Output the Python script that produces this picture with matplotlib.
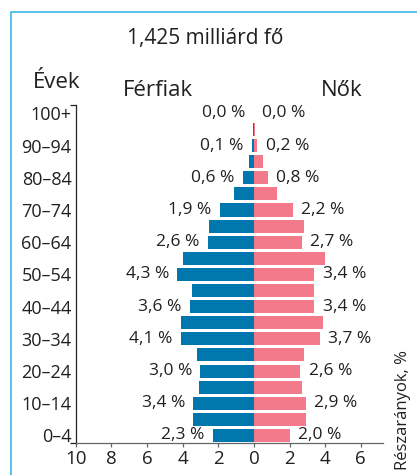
import numpy as np
import matplotlib.pyplot as plt
from matplotlib.patches import Rectangle

plt.rcParams['font.family'] = ['Open Sans', 'DejaVu Sans']

# age groups from youngest to oldest, share of total population in percent
age_groups = ['0–4', '5–9', '10–14', '15–19', '20–24', '25–29', '30–34',
              '35–39', '40–44', '45–49', '50–54', '55–59', '60–64', '65–69',
              '70–74', '75–79', '80–84', '85–89', '90–94', '95–99', '100+']
men = [2.3, 3.4, 3.4, 3.1, 3.0, 3.2, 4.1, 4.1, 3.6, 3.5, 4.3,
       4.0, 2.6, 2.5, 1.9, 1.1, 0.6, 0.3, 0.1, 0.03, 0.0]
women = [2.0, 2.9, 2.9, 2.7, 2.6, 2.8, 3.7, 3.9, 3.4, 3.4, 3.4,
         4.0, 2.7, 2.8, 2.2, 1.3, 0.8, 0.5, 0.2, 0.05, 0.0]
x_ticks = [-10, -8, -6, -4, -2, 0, 2, 4, 6]

BLUE = '#0078ad'
PINK = '#f27a8a'
FRAME = '#3cb9e6'
TEXT = '#231f20'

W, H = 417, 475


def px(x, y):
    return x / W, 1 - y / H


def pct(v):
    return f'{v:.1f} %'.replace('.', ',')


fig = plt.figure(figsize=(W / 100, H / 100), dpi=100)
left, bottom = px(75.7, 442.7)
ax = fig.add_axes([left, bottom, (382.7 - 75.7) / W, (442.7 - 105) / H])

y = np.arange(len(age_groups))
ax.barh(y, -np.array(men), height=0.81, color=BLUE, linewidth=0)
ax.barh(y, women, height=0.81, color=PINK, linewidth=0)

# value labels on every second age group
for i in range(0, len(age_groups), 2):
    ax.annotate(pct(men[i]), xy=(-men[i], y[i]), xytext=(-6, 0),
                textcoords='offset points', ha='right', va='center',
                fontsize=12.5, color=TEXT)
    ax.annotate(pct(women[i]), xy=(women[i], y[i]), xytext=(6, 0),
                textcoords='offset points', ha='left', va='center',
                fontsize=12.5, color=TEXT)

ylo, yhi = -0.45, 20.52
ax.set_ylim(ylo, yhi)
ax.set_xlim(-10, 7.23)

ax.set_yticks(y[::2])
ax.set_yticklabels(age_groups[::2])
ax.set_yticks([ylo, yhi], minor=True)
ax.set_xticks(x_ticks)
ax.set_xticklabels([str(abs(t)) for t in x_ticks])

for s in ('top', 'right'):
    ax.spines[s].set_visible(False)
ax.spines['left'].set_color('#222222')
ax.spines['left'].set_linewidth(0.9)
ax.spines['bottom'].set_color('#666666')
ax.spines['bottom'].set_linewidth(0.9)

ax.tick_params(axis='y', which='major', length=0, pad=3, labelsize=13,
               labelcolor=TEXT)
ax.tick_params(axis='y', which='minor', length=4, width=0.9, color='#222222')
ax.tick_params(axis='x', length=3, width=0.9, color='#666666', pad=2.5,
               labelsize=13.5, labelcolor=TEXT)

fig.text(*px(205, 44), '1,425 milliárd fő', ha='center', va='baseline',
         fontsize=15, color=TEXT)
fig.text(*px(33, 87.5), 'Évek', ha='left', va='baseline', fontsize=16,
         color=TEXT)
fig.text(*px(123, 96.5), 'Férfiak', ha='left', va='baseline', fontsize=16,
         color=TEXT)
fig.text(*px(321, 96.5), 'Nők', ha='left', va='baseline', fontsize=16,
         color=TEXT)
fig.text(*px(403, 350), 'Részarányok, %', ha='center', va='top',
         rotation=90, fontsize=12, color=TEXT)

# thin frame around the panel, running off the right and bottom edges
fx, fy = px(10.7, 12.3)
fig.patches.append(Rectangle((fx, -0.1), 2, fy + 0.1, fill=False,
                             edgecolor=FRAME, linewidth=1.2,
                             transform=fig.transFigure))

fig.savefig('out.png', dpi=100)
